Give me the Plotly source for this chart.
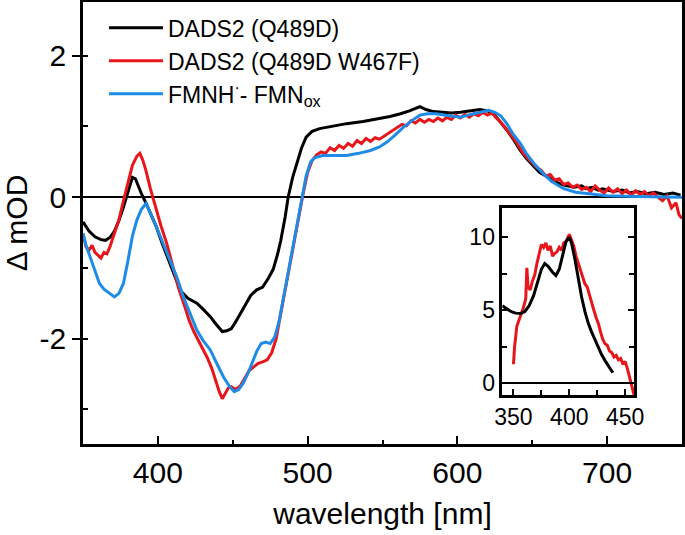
import plotly.graph_objects as go

### Données ###

# DADS2 (Q489D) - courbe noire
wl_black = [350, 354, 358, 362, 365, 368, 371, 374, 377, 380, 383, 385, 387, 389, 392, 395, 399,
            403, 408, 411, 415, 420, 426, 430, 435, 439, 443, 446, 449, 452, 455, 458, 462, 466,
            470, 474, 477, 480, 482, 485, 487, 490, 493, 496, 499, 503, 508, 515, 526, 537, 548,
            555, 562, 568, 575, 579, 584, 590, 596, 602, 609, 615, 620, 624, 628, 633, 638, 642,
            646, 651, 655, 660, 665, 671, 678, 683, 686, 690, 694, 697, 704, 710, 715, 720, 726,
            732, 738, 744, 749]
od_black = [-0.35, -0.48, -0.56, -0.60, -0.61, -0.57, -0.48, -0.33, -0.14, 0.08, 0.28, 0.26, 0.15,
            0.05, -0.08, -0.22, -0.42, -0.66, -0.94, -1.12, -1.32, -1.43, -1.50, -1.58, -1.69,
            -1.80, -1.90, -1.89, -1.86, -1.76, -1.65, -1.52, -1.39, -1.31, -1.27, -1.14, -1.02,
            -0.80, -0.62, -0.28, 0.00, 0.28, 0.50, 0.70, 0.85, 0.93, 0.97, 1.00, 1.04, 1.07, 1.11,
            1.14, 1.18, 1.22, 1.28, 1.24, 1.21, 1.20, 1.19, 1.20, 1.22, 1.24, 1.22, 1.18, 1.08,
            0.95, 0.80, 0.66, 0.55, 0.43, 0.35, 0.29, 0.22, 0.17, 0.14, 0.16, 0.12, 0.14, 0.10,
            0.12, 0.08, 0.10, 0.06, 0.08, 0.05, 0.07, 0.04, 0.06, 0.03]

# DADS2 (Q489D W467F) - courbe rouge
wl_red = [350, 352, 354, 356, 358, 360, 362, 364, 366, 368, 370, 372, 374, 377, 380, 383, 386, 388,
          390, 392, 395, 399, 402, 406, 410, 414, 418, 421, 424, 427, 430, 433, 436, 439, 441, 443,
          445, 447, 449, 452, 455, 458, 461, 464, 467, 470, 473, 476, 479, 482, 485, 488, 491, 494,
          497, 500, 503, 506, 509, 512, 515, 518, 521, 524, 527, 530, 533, 536, 539, 542, 545, 548,
          551, 554, 557, 560, 563, 566, 569, 572, 575, 578, 581, 584, 587, 590, 593, 596, 599, 602,
          605, 608, 611, 614, 617, 620, 623, 626, 629, 632, 635, 638, 641, 644, 647, 650, 653, 656,
          659, 662, 665, 668, 671, 674, 677, 680, 683, 686, 689, 692, 695, 698, 701, 704, 707, 710,
          713, 716, 719, 722, 725, 728, 731, 734, 737, 740, 743, 746, 748, 750]
od_red = [-0.52, -0.70, -0.75, -0.68, -0.78, -0.82, -0.86, -0.78, -0.80, -0.70, -0.58, -0.45, -0.32,
          -0.05, 0.20, 0.45, 0.58, 0.62, 0.52, 0.38, 0.12, -0.18, -0.40, -0.66, -0.98, -1.30, -1.55,
          -1.75, -1.90, -2.02, -2.14, -2.27, -2.42, -2.62, -2.75, -2.85, -2.78, -2.70, -2.68, -2.72,
          -2.67, -2.56, -2.45, -2.40, -2.35, -2.33, -2.30, -2.20, -2.00, -1.65, -1.30, -0.95, -0.60,
          -0.28, 0.05, 0.35, 0.52, 0.60, 0.64, 0.62, 0.70, 0.66, 0.73, 0.69, 0.76, 0.72, 0.80, 0.76,
          0.83, 0.79, 0.84, 0.82, 0.86, 0.90, 0.94, 0.98, 1.03, 1.01, 1.08, 1.05, 1.10, 1.06, 1.10,
          1.07, 1.12, 1.08, 1.13, 1.10, 1.16, 1.12, 1.17, 1.13, 1.18, 1.15, 1.20, 1.16, 1.19, 1.12,
          1.06, 0.98, 0.90, 0.82, 0.72, 0.62, 0.55, 0.48, 0.42, 0.38, 0.30, 0.32, 0.24, 0.26, 0.18,
          0.20, 0.14, 0.17, 0.11, 0.14, 0.08, 0.16, 0.10, 0.06, 0.13, 0.07, 0.12, 0.05, 0.10, 0.03,
          0.09, 0.04, 0.08, 0.02, 0.06, 0.00, -0.05, 0.02, -0.15, -0.08, -0.25, -0.30]

# FMNH - FMNox - courbe bleue
wl_blue = [350, 352, 355, 358, 361, 364, 367, 371, 374, 377, 380, 383, 386, 389, 392, 395, 399, 404,
           408, 413, 417, 422, 426, 430, 435, 440, 444, 448, 451, 454, 457, 460, 463, 466, 469, 472,
           475, 478, 481, 484, 487, 490, 493, 496, 499, 502, 505, 510, 518, 526, 534, 542, 548, 553,
           558, 564, 570, 575, 580, 586, 592, 598, 602, 607, 611, 616, 621, 625, 629, 633, 637, 642,
           646, 651, 657, 663, 671, 679, 687, 700, 720, 750]
od_blue = [-0.51, -0.68, -0.86, -1.05, -1.22, -1.30, -1.35, -1.41, -1.36, -1.22, -0.90, -0.55, -0.32,
           -0.17, -0.09, -0.22, -0.42, -0.68, -0.89, -1.15, -1.41, -1.66, -1.88, -2.02, -2.16, -2.38,
           -2.55, -2.68, -2.75, -2.72, -2.63, -2.50, -2.35, -2.18, -2.07, -2.05, -2.07, -1.98, -1.75,
           -1.40, -1.05, -0.75, -0.40, -0.05, 0.30, 0.50, 0.56, 0.59, 0.59, 0.59, 0.62, 0.66, 0.71,
           0.78, 0.87, 0.99, 1.09, 1.16, 1.18, 1.18, 1.16, 1.14, 1.13, 1.16, 1.18, 1.21, 1.23, 1.20,
           1.15, 1.04, 0.90, 0.76, 0.62, 0.48, 0.34, 0.22, 0.12, 0.07, 0.05, 0.02, 0.01, 0.00]

# Encart
wl_in_black = [340, 344, 348, 352, 356, 360, 364, 368, 372, 375, 378, 381, 385, 388, 391, 394, 397,
               400, 402, 405, 408, 411, 414, 417, 420, 423, 426, 429, 432, 435, 438, 439]
in_black = [5.3, 5.1, 4.9, 4.8, 4.77, 4.9, 5.3, 6.0, 7.0, 7.8, 8.2, 8.0, 7.6, 7.38, 7.8, 8.8, 9.7,
            10.0, 9.6, 8.5, 7.2, 5.9, 4.9, 4.1, 3.5, 2.95, 2.4, 1.95, 1.55, 1.2, 0.85, 0.72]
wl_in_red = [350, 351, 353, 355, 357, 359, 361, 362, 363, 365, 367, 369, 371, 373, 375, 377, 379, 381,
             383, 385, 387, 389, 391, 393, 395, 397, 399, 400, 402, 404, 406, 408, 410, 412, 414,
             416, 418, 420, 422, 424, 426, 428, 430, 432, 434, 436, 438, 440, 442, 444, 446, 448,
             450, 452, 454, 456, 458]
in_red = [1.3, 2.5, 3.9, 4.3, 4.8, 5.2, 5.8, 7.9, 6.6, 6.4, 7.0, 7.4, 8.2, 8.8, 9.5, 9.3, 9.6, 9.1,
          9.4, 8.7, 8.9, 9.0, 9.3, 9.1, 9.6, 9.7, 10.1, 10.2, 9.8, 9.4, 8.7, 8.2, 7.8, 7.2, 6.8, 6.6,
          6.0, 5.6, 5.0, 4.5, 4.1, 3.5, 3.0, 2.7, 2.6, 2.2, 2.1, 1.8, 1.9, 1.6, 1.7, 1.3, 1.5, 1.0,
          0.4, -0.3, -0.8]

# étiquettes de l'axe y (tiret simple comme sur l'original)
y_ticks = [-2, 0, 2]
y_ticklabels = ['-2', '0', '2']

RED = 'rgb(232,22,26)'
BLUE = 'rgb(30,140,230)'
FONT = 'Arial, Liberation Sans, sans-serif'

fig = go.Figure()

fig.add_trace(go.Scatter(x=wl_black, y=od_black, mode='lines', name='DADS2 (Q489D)',
                         line=dict(color='black', width=3)))
fig.add_trace(go.Scatter(x=wl_red, y=od_red, mode='lines', name='DADS2 (Q489D W467F)',
                         line=dict(color=RED, width=3)))
fig.add_trace(go.Scatter(x=wl_blue, y=od_blue, mode='lines', name='FMNH<sup>·</sup>- FMN<sub>ox</sub>',
                         line=dict(color=BLUE, width=3)))

# encart
fig.add_trace(go.Scatter(x=wl_in_red, y=in_red, mode='lines', xaxis='x2', yaxis='y2',
                         showlegend=False, line=dict(color=RED, width=3)))
fig.add_trace(go.Scatter(x=wl_in_black, y=in_black, mode='lines', xaxis='x2', yaxis='y2',
                         showlegend=False, line=dict(color='black', width=3)))

axe = dict(showgrid=False, showline=True, linecolor='black', linewidth=2.5,
           tickcolor='black', tickwidth=2, zeroline=False, automargin=False)

fig.update_layout(
    width=685, height=535,
    margin=dict(l=83, r=3, t=2, b=91),
    paper_bgcolor='white', plot_bgcolor='white',
    font=dict(family=FONT, color='black', size=30),
    showlegend=True,
    legend=dict(x=0.035, y=0.99, xanchor='left', yanchor='top', bgcolor='rgba(0,0,0,0)',
                font=dict(size=23), tracegroupgap=0, itemwidth=54),
    xaxis=dict(axe, range=[350, 750], dtick=100, tick0=400, ticks='inside', ticklen=8,
               mirror=True, minor=dict(dtick=50, ticks='inside', ticklen=4, tickcolor='black', tickwidth=2),
               title=dict(text='wavelength [nm]', font=dict(size=30), standoff=16)),
    yaxis=dict(axe, range=[-3.49, 2.76], tickvals=y_ticks, ticktext=y_ticklabels,
               ticks='outside', ticklen=8,
               mirror=True, zeroline=True, zerolinecolor='black', zerolinewidth=2,
               minor=dict(dtick=1, tick0=0, ticks='inside', ticklen=5, tickcolor='black', tickwidth=2),
               title=dict(text='Δ mOD', font=dict(size=30), standoff=16)),
    yaxis3=dict(overlaying='y', side='right', anchor='x', range=[-3.49, 2.76], dtick=1, tick0=0,
                ticks='inside', ticklen=8, tickcolor='black', tickwidth=2, automargin=False,
                showticklabels=False, showgrid=False, showline=False, zeroline=False),
    xaxis2=dict(axe, domain=[0.700, 0.920], anchor='y2', range=[340, 458], dtick=50, tick0=350,
                ticks='inside', ticklen=6, mirror=True, tickfont=dict(size=23),
                minor=dict(dtick=25, ticks='inside', ticklen=5, tickcolor='black', tickwidth=2)),
    yaxis2=dict(axe, domain=[0.111, 0.534], anchor='x2', range=[-0.8, 12], dtick=5, tick0=0,
                ticks='inside', ticklen=6, mirror='ticks', tickfont=dict(size=23),
                zeroline=True, zerolinecolor='black', zerolinewidth=2,
                minor=dict(dtick=2.5, ticks='inside', ticklen=5, tickcolor='black', tickwidth=2)),
)

# enlever la marge par défaut de la page
fig.write_html("out.html", config={'displayModeBar': False},
               post_script="document.body.style.margin='0';")
